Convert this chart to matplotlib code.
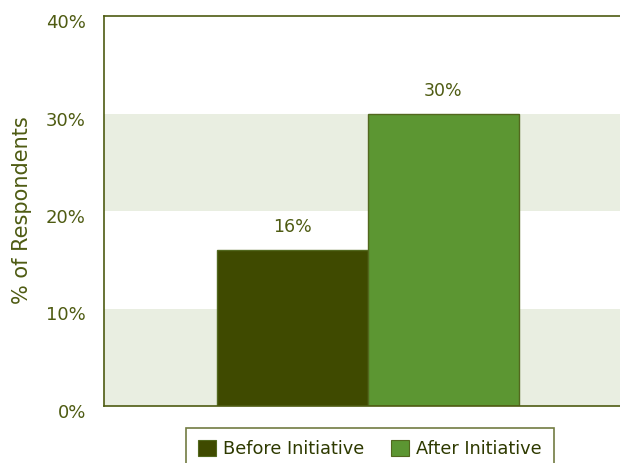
import matplotlib
matplotlib.use("Agg")
import matplotlib.pyplot as plt
import matplotlib.transforms as mtransforms
from matplotlib.ticker import FixedLocator

categories = ["Before Initiative", "After Initiative"]
values = [16, 30]
yticks = [0, 10, 20, 30, 40]
ytick_labels = ["0%", "10%", "20%", "30%", "40%"]
value_labels = ["16%", "30%"]

olive = "#4E5B12"
bar_colors = ["#3F4A00", "#5C9632"]
edge_color = "#52681E"
band_color = "#E9EEE1"

plt.rcParams['font.family'] = ['Liberation Sans Narrow', 'DejaVu Sans']

fig = plt.figure(figsize=(6.20, 4.63), dpi=100)
ax = fig.add_axes([104/620, 1-406/463, 1-104/620, (406-16)/463])

# bands
for lo in (0, 20):
    ax.axhspan(lo, lo+10, color=band_color, zorder=0, lw=0)

xs = [0, 1]
bars = ax.bar(xs, values, width=1.0, color=bar_colors, edgecolor=edge_color,
              linewidth=1.0, zorder=2, label=None)
for x, v, lab in zip(xs, values, value_labels):
    ax.annotate(lab, (x, v), xytext=(0, 10), textcoords="offset points",
                ha="center", va="bottom", color=olive, fontsize=12.5)

ax.set_xlim(-1.248, 2.169)
ax.set_ylim(0, 40)
ax.yaxis.set_major_locator(FixedLocator(yticks))
ax.set_yticklabels(ytick_labels, fontsize=13, color=olive)
ax.tick_params(axis='y', length=0, pad=13)
offset = mtransforms.ScaledTranslation(0, -5/100, fig.dpi_scale_trans)
for lbl in ax.get_yticklabels():
    lbl.set_transform(lbl.get_transform() + offset)
ax.set_xticks([])
for s in ("left", "top", "bottom"):
    ax.spines[s].set_color(olive)
    ax.spines[s].set_linewidth(1.2)
ax.spines["right"].set_visible(False)

fig.text(22/620, 1-210/463, "% of Respondents", rotation=90, ha="center",
         va="center", color=olive, fontsize=15, family=['DejaVu Sans'])

handles = [plt.Rectangle((0, 0), 1, 1, facecolor=c, edgecolor=edge_color, lw=0.8)
           for c in bar_colors]
leg = fig.legend(handles, categories, loc="upper center",
                 bbox_to_anchor=(370/620, 1-428/463), ncol=2, frameon=True,
                 fancybox=False, edgecolor=olive, borderaxespad=0,
                 handlelength=1.0, handleheight=1.0, handletextpad=0.4,
                 columnspacing=1.5, borderpad=0.7,
                 prop={'family': ['DejaVu Sans'], 'size': 12.8})
for t in leg.get_texts():
    t.set_color("#2E3A00")
leg.get_frame().set_linewidth(1.2)

fig.savefig("out.png", dpi=100)
